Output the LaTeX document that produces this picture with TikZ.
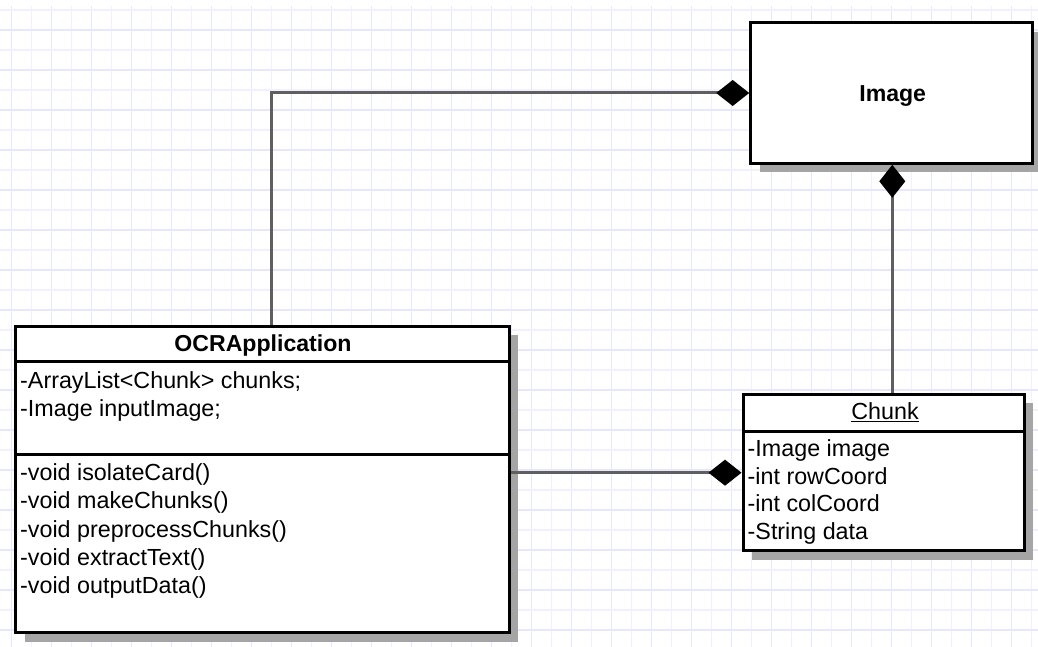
\documentclass[tikz,border=0pt]{standalone}
\usepackage{fontspec}
\setmainfont{Liberation Sans}
\usetikzlibrary{arrows.meta,shadows}
\definecolor{gridminor}{RGB}{240,240,255}
\definecolor{gridmajor}{RGB}{230,230,253}
\definecolor{conncol}{RGB}{95,95,95}
\definecolor{shadowcol}{RGB}{165,165,165}
\begin{document}
\begin{tikzpicture}[x=1pt,y=-1pt,
  box/.style={draw=black, line width=3pt, fill=white, rectangle, inner sep=0pt,
    drop shadow={shadow xshift=9pt, shadow yshift=-9pt, fill=shadowcol, opacity=1}},
  txt/.style={inner sep=0pt, font=\fontsize{23.3}{28}\selectfont},
  ttl/.style={inner sep=0pt, font=\bfseries\fontsize{23.1}{28}\selectfont},
  member/.style={txt, anchor=base west},
  divider/.style={draw=black, line width=3pt},
  conn/.style={draw=conncol, line width=3pt},
  comp/.style={conn, -{Diamond[length=33pt, width=26pt, fill=black, color=black]}}
]
\useasboundingbox (0,0) rectangle (1038,647);
\fill[white] (0,0) rectangle (1038,647);
% grid
\foreach \k in {0,...,51} {
  \pgfmathtruncatemacro{\ev}{mod(\k,2)}
  \ifnum\ev=0
    \draw[gridmajor, line width=1.3pt] ({11.7+20*\k},6) -- ({11.7+20*\k},647);
  \else
    \draw[gridminor, line width=1.1pt] ({11.7+20*\k},6) -- ({11.7+20*\k},647);
  \fi
}
\foreach \k in {0,...,32} {
  \pgfmathtruncatemacro{\ev}{mod(\k,2)}
  \ifnum\ev=1
    \draw[gridmajor, line width=1.3pt] (0,{10+20*\k}) -- (1038,{10+20*\k});
  \else
    \draw[gridminor, line width=1.1pt] (0,{10+20*\k}) -- (1038,{10+20*\k});
  \fi
}

% boxes
\node[box, minimum width=282pt, minimum height=140.6pt] (img) at (891.7,93) {};
\node[box, minimum width=493.3pt, minimum height=306.7pt] (ocr) at (262.35,479.35) {};
\node[box, minimum width=281pt, minimum height=156.7pt] (chunk) at (883.5,472.35) {};

% dividers
\coordinate (od1) at (0,361.7);
\coordinate (od2) at (0,454);
\coordinate (cd1) at (0,431);
\draw[divider] (ocr.west |- od1) -- (ocr.east |- od1);
\draw[divider] (ocr.west |- od2) -- (ocr.east |- od2);
\draw[divider] (chunk.west |- cd1) -- (chunk.east |- cd1);

% texts
\node[ttl, anchor=base] (imgname) at (892.7,101.7) {Image};
\node[ttl, anchor=base] (ocrname) at (263,351.7) {OCRApplication};
\node[member] (a1) at (20,388) {-ArrayList<Chunk> chunks;};
\node[member] (a2) at (20,416.5) {-Image inputImage;};
\node[member] (m1) at (20,480.7) {-void isolateCard()};
\node[member] (m2) at (20,508.9) {-void makeChunks()};
\node[member] (m3) at (20,537.1) {-void preprocessChunks()};
\node[member] (m4) at (20,565.3) {-void extractText()};
\node[member] (m5) at (20,593.5) {-void outputData()};
\node[txt, anchor=base] (chunkname) at (885,419.5) {\underline{Chunk}};
\node[member] (c1) at (747.5,456) {-Image image};
\node[member] (c2) at (747.5,484) {-int rowCoord};
\node[member] (c3) at (747.5,511.8) {-int colCoord};
\node[member] (c4) at (747.5,539.5) {-String data};

% connectors
\coordinate (x1) at (271.7,0);
\coordinate (x2) at (892.3,0);
\coordinate (y3) at (0,472.7);
\draw[comp] (x1 |- ocr.north) |- (img.west);
\draw[comp] (x2 |- chunk.north) -- (x2 |- img.south);
\draw[comp] (ocr.east |- y3) -- (chunk.west |- y3);
\end{tikzpicture}
\end{document}
